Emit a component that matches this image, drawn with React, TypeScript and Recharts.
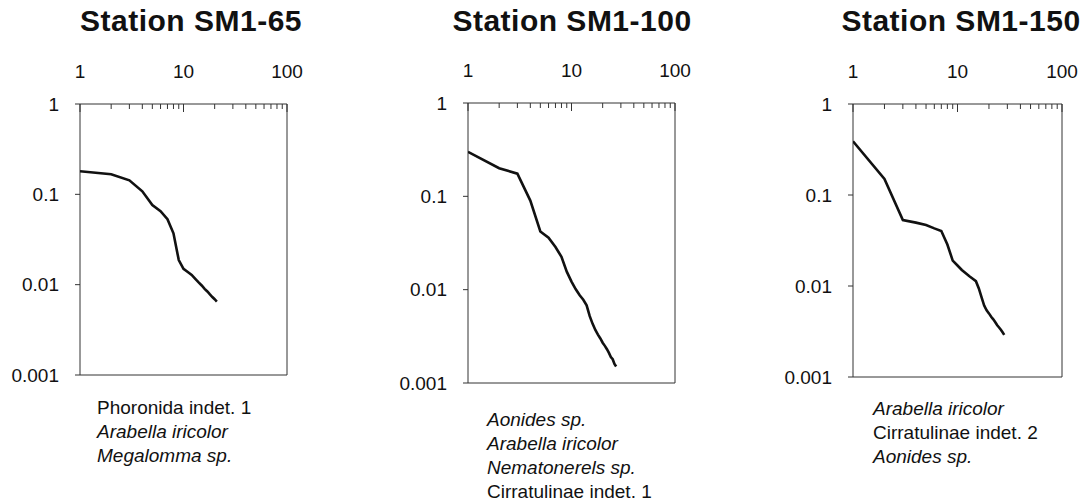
import React from 'react';
import { LineChart, Line, XAxis, YAxis, ReferenceArea } from 'recharts';

// relative abundance by rank, one value per rank starting at rank 1
const sm65Abundance = [
  0.18, 0.167, 0.143, 0.108, 0.076, 0.065, 0.053, 0.037, 0.0187, 0.015, 0.0138,
  0.0128, 0.0116, 0.0106, 0.0098, 0.009, 0.0084, 0.0078, 0.0073, 0.0069, 0.0065,
];
const sm100Abundance = [
  0.3, 0.2, 0.175, 0.09, 0.042, 0.036, 0.0286, 0.0225, 0.0156, 0.0122, 0.0101,
  0.0087, 0.0078, 0.0068, 0.0052, 0.0043, 0.0037, 0.0033, 0.003, 0.0027, 0.0025,
  0.0023, 0.0021, 0.0019, 0.0018, 0.0016, 0.0015,
];
const sm150Abundance = [
  0.39, 0.15, 0.053, 0.0497, 0.0467, 0.043, 0.0403, 0.0286, 0.019, 0.0168, 0.015,
  0.0138, 0.0128, 0.012, 0.0113, 0.0094, 0.0075, 0.0061, 0.0054, 0.005, 0.0046,
  0.0043, 0.004, 0.0037, 0.0035, 0.0033, 0.0031, 0.0029,
];

const sm65Species = ['Phoronida indet. 1', 'Arabella iricolor', 'Megalomma sp.'];
const sm65Italic = [false, true, true];
const sm100Species = ['Aonides sp.', 'Arabella iricolor', 'Nematonerels sp.', 'Cirratulinae indet. 1'];
const sm100Italic = [true, true, true, false];
const sm150Species = ['Arabella iricolor', 'Cirratulinae indet. 2', 'Aonides sp.'];
const sm150Italic = [true, false, true];

const majorXTicks = [1, 10, 100];
const allXTicks = [1, 2, 3, 4, 5, 6, 7, 8, 9, 10, 20, 30, 40, 50, 60, 70, 80, 90, 100];
const yTicks = [0.001, 0.01, 0.1, 1];

const FONT = '"Liberation Sans", Arial, Helvetica, sans-serif';
const INK = '#111';
const FRAME = '#333';
const X_LABEL_GAP = 26;
const Y_AXIS_W = 80;
const X_AXIS_H = 40;
const RIGHT_PAD = 26;

const toRows = (values: number[]) => values.map((v, i) => ({ rank: i + 1, value: v }));

// top axis tick: short mark pointing into the plot, label only on decades
const TopTick = (props: any) => {
  const { x, y, payload, axisY } = props;
  const px = Number(x);
  const major = majorXTicks.includes(payload.value);
  return (
    <g>
      <line x1={px} x2={px} y1={axisY} y2={axisY + (major ? 8 : 5)} stroke={FRAME} strokeWidth={1} />
      {major && (
        <text x={px} y={Number(y)} textAnchor="middle" fill={INK} fontSize={19} fontFamily={FONT}>
          {payload.value}
        </text>
      )}
    </g>
  );
};

interface PanelProps {
  title: string;
  titleCenter: number;
  values: number[];
  species: string[];
  italic: boolean[];
  speciesLeft: number;
  speciesTop: number;
  plot: { left: number; top: number; right: number; bottom: number };
}

const Panel: React.FC<PanelProps> = ({ title, titleCenter, values, species, italic, speciesLeft, speciesTop, plot }) => {
  const chartLeft = plot.left - Y_AXIS_W;
  const width = Y_AXIS_W + (plot.right - plot.left) + RIGHT_PAD;
  return (
    <>
      <div
        style={{
          position: 'absolute',
          left: titleCenter - 150,
          width: 300,
          top: 4,
          textAlign: 'center',
          fontFamily: FONT,
          fontWeight: 'bold',
          fontSize: 30,
          letterSpacing: 0.5,
          color: INK,
          whiteSpace: 'nowrap',
        }}
      >
        {title}
      </div>
      <div style={{ position: 'absolute', left: chartLeft, top: 0 }}>
        <LineChart
          width={width}
          height={503}
          data={toRows(values)}
          margin={{ top: plot.top - X_AXIS_H, right: RIGHT_PAD, bottom: 503 - plot.bottom, left: 0 }}
        >
          <XAxis
            dataKey="rank"
            type="number"
            scale="log"
            orientation="top"
            domain={[1, 100]}
            allowDataOverflow
            ticks={allXTicks}
            interval={0}
            height={X_AXIS_H}
            axisLine={false}
            tickLine={false}
            tickSize={0}
            tickMargin={X_LABEL_GAP}
            tick={(p: any) => <TopTick {...p} axisY={plot.top} />}
          />
          <YAxis
            type="number"
            scale="log"
            domain={[0.001, 1]}
            allowDataOverflow
            ticks={yTicks}
            interval={0}
            width={Y_AXIS_W}
            axisLine={false}
            tickLine={{ stroke: FRAME }}
            tickSize={5}
            tickMargin={16}
            tickFormatter={(v: number) => String(v)}
            tick={{ fill: INK, fontSize: 19, fontFamily: FONT }}
          />
          <ReferenceArea x1={1} x2={100} y1={0.001} y2={1} fill="none" stroke={FRAME} strokeWidth={1} />
          <Line
            type="linear"
            dataKey="value"
            stroke={INK}
            strokeWidth={2.6}
            dot={false}
            isAnimationActive={false}
          />
        </LineChart>
      </div>
      <div
        style={{
          position: 'absolute',
          left: speciesLeft,
          top: speciesTop,
          fontFamily: FONT,
          fontSize: 19,
          lineHeight: '24px',
          color: INK,
          whiteSpace: 'nowrap',
        }}
      >
        {species.map((s, i) => (
          <div key={s} style={{ fontStyle: italic[i] ? 'italic' : 'normal' }}>
            {s}
          </div>
        ))}
      </div>
    </>
  );
};

export default function App() {
  return (
    <div style={{ position: 'absolute', left: 0, top: 0, width: 1089, height: 503, background: '#fff', overflow: 'hidden' }}>
      <Panel
        title="Station SM1-65"
        titleCenter={191}
        values={sm65Abundance}
        species={sm65Species}
        italic={sm65Italic}
        speciesLeft={97}
        speciesTop={396}
        plot={{ left: 80, top: 104, right: 287, bottom: 375 }}
      />
      <Panel
        title="Station SM1-100"
        titleCenter={572}
        values={sm100Abundance}
        species={sm100Species}
        italic={sm100Italic}
        speciesLeft={487}
        speciesTop={408}
        plot={{ left: 468, top: 103, right: 675, bottom: 383 }}
      />
      <Panel
        title="Station SM1-150"
        titleCenter={961}
        values={sm150Abundance}
        species={sm150Species}
        italic={sm150Italic}
        speciesLeft={873}
        speciesTop={397}
        plot={{ left: 853, top: 104, right: 1062, bottom: 377 }}
      />
    </div>
  );
}
